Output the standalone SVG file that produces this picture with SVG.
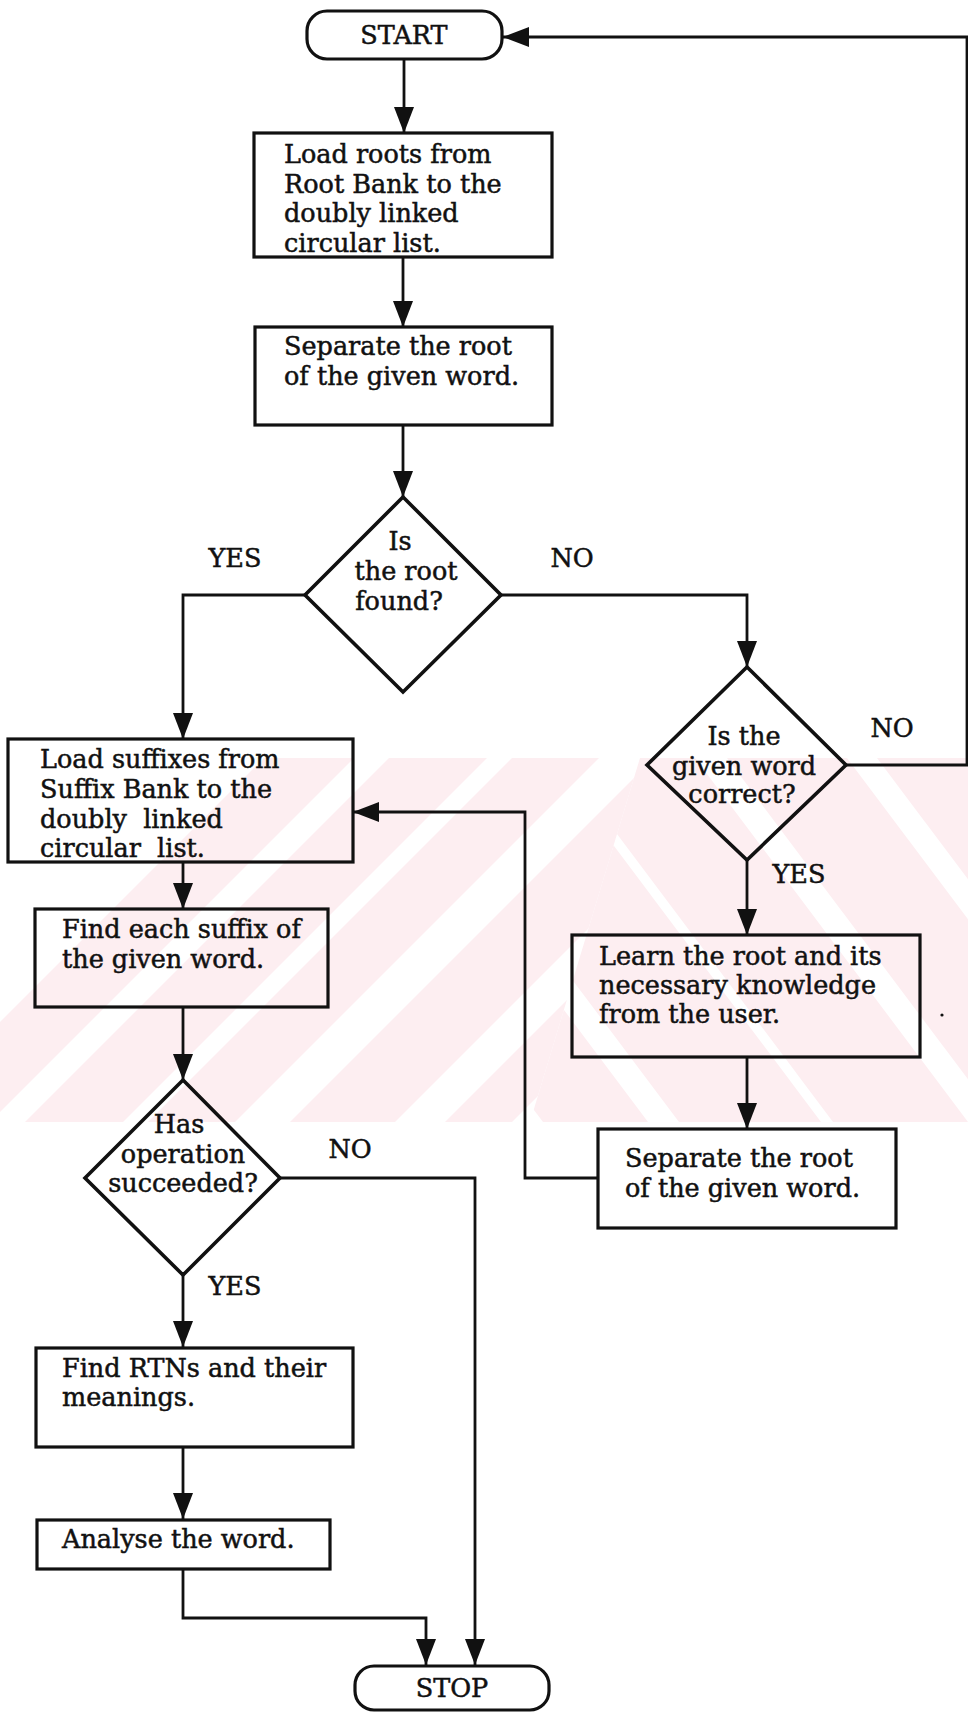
<svg xmlns="http://www.w3.org/2000/svg" width="968" height="1713" viewBox="0 0 968 1713">
<style>
.t{font-family:"DejaVu Serif","Liberation Serif",serif;font-size:25.5px;fill:#111;stroke:#111;stroke-width:0.5;white-space:pre}
.c{text-anchor:middle}
.n{fill:none;stroke:#111;stroke-width:3.2}
.d{fill:none;stroke:#111;stroke-width:3.6}
.e{fill:none;stroke:#111;stroke-width:2.8;marker-end:url(#ah)}
.wm{fill:#fdeef1}
</style>
<defs>
<marker id="ah" markerUnits="userSpaceOnUse" markerWidth="26" markerHeight="20" refX="26" refY="10" orient="auto" viewBox="0 0 26 20">
<path d="M0,0 L26,10 L0,20 Z" fill="#111"/>
</marker>
<clipPath id="cl"><polygon points="0,758 640,758 530,1122 0,1122"/></clipPath>
<clipPath id="cr"><polygon points="640,758 968,758 968,1122 530,1122"/></clipPath>
</defs>
<rect width="968" height="1713" fill="#fff"/>
<g id="watermark">
<g clip-path="url(#cl)">
<polygon class="wm" points="-100,1122 -10,1122 354,758 264,758"/>
<polygon class="wm" points="25,1122 123,1122 487,758 389,758"/>
<polygon class="wm" points="148,1122 235,1122 599,758 512,758"/>
<polygon class="wm" points="290,1122 395,1122 759,758 654,758"/>
<polygon class="wm" points="445,1122 512,1122 876,758 809,758"/>
</g>
<g clip-path="url(#cr)">
<polygon class="wm" points="543,1122 648,1122 375,758 270,758"/>
<polygon class="wm" points="679,1122 821,1122 548,758 406,758"/>
<polygon class="wm" points="833,1122 968,1122 695,758 560,758"/>
<polygon class="wm" points="1000,1122 1120,1122 847,758 727,758"/>
<polygon class="wm" points="1150,1122 1260,1122 987,758 877,758"/>
</g>
</g>
<g id="connectors">
<path class="e" d="M404,59 V133"/>
<path class="e" d="M403,257 V327"/>
<path class="e" d="M403,425 V497"/>
<path class="e" d="M305,595 H183 V739"/>
<path class="e" d="M501,595 H747 V667"/>
<path class="e" d="M846,765 H967 V37 H503"/>
<path class="e" d="M747,860 V935"/>
<path class="e" d="M747,1057 V1129"/>
<path class="e" d="M598,1178 H525 V812 H353"/>
<path class="e" d="M183,862 V909"/>
<path class="e" d="M183,1007 V1080"/>
<path class="e" d="M280,1178 H475 V1665"/>
<path class="e" d="M183,1275 V1347"/>
<path class="e" d="M183,1447 V1519"/>
<path class="e" d="M183,1569 V1618 H426 V1665"/>
<text class="t c" x="235" y="567">YES</text>
<text class="t c" x="572" y="567">NO</text>
<text class="t c" x="892" y="737">NO</text>
<text class="t c" x="799" y="883">YES</text>
<text class="t c" x="350" y="1158">NO</text>
<text class="t c" x="235" y="1295">YES</text>
</g>
<g id="start">
<rect class="n" x="307" y="11" width="195" height="48" rx="20"/>
<text class="t c" x="404" y="44">START</text>
</g>
<g id="load-roots">
<rect class="n" x="254" y="133" width="298" height="124"/>
<text class="t" x="284" y="163">Load roots from</text>
<text class="t" x="284" y="192.5">Root Bank to the</text>
<text class="t" x="284" y="222">doubly linked</text>
<text class="t" x="284" y="251.5">circular list.</text>
</g>
<g id="separate-1">
<rect class="n" x="255" y="327" width="297" height="98"/>
<text class="t" x="284" y="355">Separate the root</text>
<text class="t" x="284" y="385">of the given word.</text>
</g>
<g id="root-found">
<polygon class="d" points="403,497 501,595 403,692 305,595"/>
<text class="t c" x="400" y="550">Is</text>
<text class="t c" x="406" y="580">the root</text>
<text class="t c" x="399" y="610">found?</text>
</g>
<g id="word-correct">
<polygon class="d" points="747,667 846,765 747,860 647,765"/>
<text class="t c" x="744" y="745">Is the</text>
<text class="t c" x="744" y="775">given word</text>
<text class="t c" x="742" y="803">correct?</text>
</g>
<g id="load-suffixes">
<rect class="n" x="8" y="739" width="345" height="123"/>
<text class="t" x="40" y="768">Load suffixes from</text>
<text class="t" x="40" y="798">Suffix Bank to the</text>
<text class="t" x="40" y="828">doubly  linked</text>
<text class="t" x="40" y="857">circular  list.</text>
</g>
<g id="learn-root">
<rect class="n" x="572" y="935" width="348" height="122"/>
<text class="t" x="599" y="965">Learn the root and its</text>
<text class="t" x="599" y="994">necessary knowledge</text>
<text class="t" x="599" y="1023">from the user.</text>
<circle cx="942" cy="1015" r="1.6" fill="#111"/>
</g>
<g id="separate-2">
<rect class="n" x="598" y="1129" width="298" height="99"/>
<text class="t" x="625" y="1167">Separate the root</text>
<text class="t" x="625" y="1197">of the given word.</text>
</g>
<g id="find-suffix">
<rect class="n" x="35" y="909" width="293" height="98"/>
<text class="t" x="62" y="938">Find each suffix of</text>
<text class="t" x="62" y="968">the given word.</text>
</g>
<g id="op-succeeded">
<polygon class="d" points="183,1080 280,1178 183,1275 85,1178"/>
<text class="t c" x="179" y="1133">Has</text>
<text class="t c" x="183" y="1163">operation</text>
<text class="t c" x="183" y="1192">succeeded?</text>
</g>
<g id="find-rtns">
<rect class="n" x="36" y="1348" width="317" height="99"/>
<text class="t" x="62" y="1377">Find RTNs and their</text>
<text class="t" x="62" y="1406">meanings.</text>
</g>
<g id="analyse">
<rect class="n" x="37" y="1520" width="293" height="49"/>
<text class="t" x="62" y="1548">Analyse the word.</text>
</g>
<g id="stop">
<rect class="n" x="355" y="1666" width="194" height="44" rx="19"/>
<text class="t c" x="452" y="1697">STOP</text>
</g>
</svg>
